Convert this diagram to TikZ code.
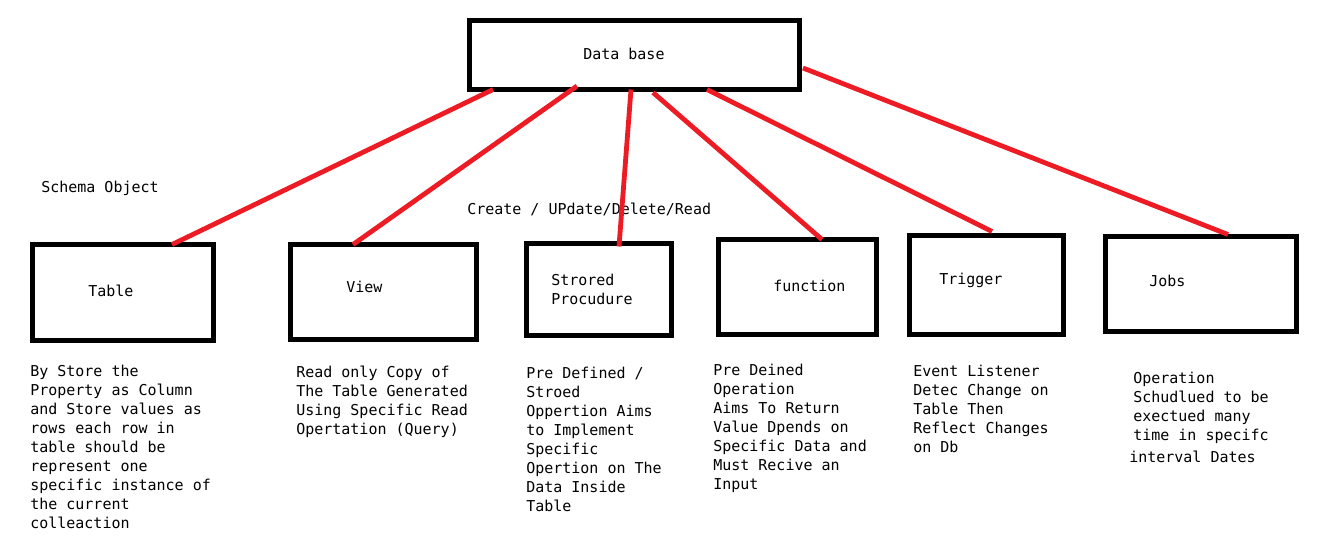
\documentclass[tikz,border=0pt]{standalone}
\usepackage{fontspec}
\setmonofont{DejaVu Sans Mono}
\usepackage{tikz}
\usetikzlibrary{calc}
\definecolor{paintred}{RGB}{237,28,36}
\newcommand{\paintfont}{\ttfamily\fontsize{11.25}{14.25}\selectfont}

\begin{document}
\begin{tikzpicture}[x=0.75pt,y=-0.75pt,
    objbox/.style={draw, line width=3.75pt, outer sep=0pt, inner sep=0pt},
    link/.style={draw=paintred, line width=3.6pt},
    lbl/.style={anchor=base west, inner sep=0pt, font=\paintfont},
    note/.style={anchor=north west, align=left, inner sep=0pt, font=\paintfont}]
    \useasboundingbox (0,0) rectangle (1336,540);
    % boxes
    \node[objbox, minimum width=330*0.75pt, minimum height=69*0.75pt] (db) at (634.5,55) {};
    \node[objbox, minimum width=181*0.75pt, minimum height=96*0.75pt] (tbl) at (123,292.5) {};
    \node[objbox, minimum width=186*0.75pt, minimum height=95*0.75pt] (view) at (383.5,292) {};
    \node[objbox, minimum width=145*0.75pt, minimum height=92*0.75pt] (proc) at (599,289.5) {};
    \node[objbox, minimum width=158*0.75pt, minimum height=95*0.75pt] (func) at (797.5,287) {};
    \node[objbox, minimum width=154*0.75pt, minimum height=99*0.75pt] (trig) at (986.5,285) {};
    \node[objbox, minimum width=191*0.75pt, minimum height=95*0.75pt] (jobs) at (1201,284) {};
    % box labels
    \node[lbl] (dblbl) at (583,59) {Data base};
    \node[lbl] (tbllbl) at (88,296) {Table};
    \node[lbl] (viewlbl) at (346,292) {View};
    \node[note] (proclbl) at (551,271.7) {\strut Strored\\Procudure};
    \node[lbl] (funclbl) at (773,291) {function};
    \node[lbl] (triglbl) at (939,284) {Trigger};
    \node[lbl] (jobslbl) at (1149,286) {Jobs};
    \node[lbl] (schema) at (41,192) {Schema Object};
    \node[lbl] (crud) at (467,214) {Create / UPdate/Delete/Read};
    % links
    \draw[link] ($(db.south west)+(23.5,0)$) -- ($(tbl.north west)+(139.5,0)$);
    \draw[link] ($(db.south west)+(107.5,-3.5)$) -- ($(view.north west)+(62.5,0)$);
    \draw[link] ($(db.south west)+(161.5,0)$) -- ($(proc.north west)+(92.5,3)$);
    \draw[link] ($(db.south west)+(183.5,3)$) -- ($(func.north west)+(103.5,0)$);
    \draw[link] ($(db.south west)+(237.5,0)$) -- ($(trig.north west)+(82.5,-4)$);
    \draw[link] ($(db.east)+(3.5,13)$) -- ($(jobs.north west)+(122.5,-2)$);
    % descriptions
    \node[note] (tblnote) at (30,362.7) {\strut By Store the\\Property as Column\\and Store values as\\rows each row in\\table should be\\represent one\\specific instance of\\the current\\colleaction};
    \node[note] (viewnote) at (296,363.7) {\strut Read only Copy of\\The Table Generated\\Using Specific Read\\Opertation (Query)};
    \node[note] (procnote) at (526,364.7) {\strut Pre Defined /\\Stroed\\Oppertion Aims\\to Implement\\Specific\\Opertion on The\\Data Inside\\Table};
    \node[note] (funcnote) at (713,361.7) {\strut Pre Deined\\Operation\\Aims To Return\\Value Dpends on\\Specific Data and\\Must Recive an\\Input};
    \node[note] (trignote) at (913,362.7) {\strut Event Listener\\Detec Change on\\Table Then\\Reflect Changes\\on Db};
    \node[note] (jobsnote) at (1133,369.7) {\strut Operation\\Schudlued to be\\exectued many\\time in specifc\\[2.25pt]\hspace*{-3pt}interval Dates};
\end{tikzpicture}
\end{document}
